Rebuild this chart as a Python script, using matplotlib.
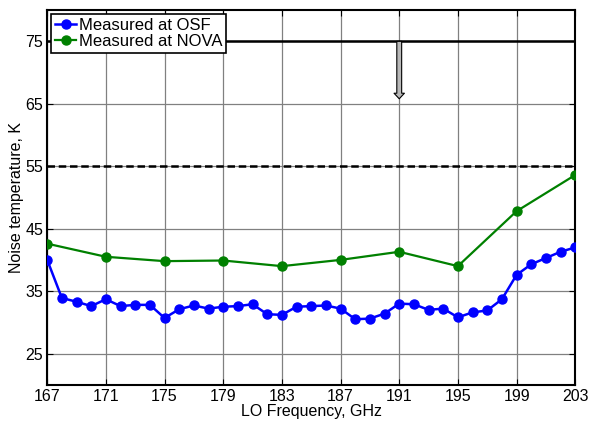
import matplotlib.pyplot as plt

plt.rcParams['font.family'] = ['Liberation Sans', 'DejaVu Sans']

# LO frequency, GHz
freq_osf = list(range(167, 204))
freq_nova = list(range(167, 204, 4))

# noise temperature, K
t_osf = [40.0, 33.9, 33.3, 32.6, 33.7, 32.6, 32.8, 32.8, 30.7, 32.1,
         32.7, 32.2, 32.5, 32.6, 32.9, 31.3, 31.2, 32.5, 32.6, 32.7,
         32.2, 30.5, 30.6, 31.4, 33.0, 32.9, 32.0, 32.2, 30.8, 31.6,
         31.9, 33.7, 37.6, 39.3, 40.3, 41.3, 42.0]
t_nova = [42.6, 40.5, 39.8, 39.9, 39.0, 40.0, 41.3, 39.0, 47.8, 53.6]

spec_solid = 75
spec_dashed = 55
xticks = list(range(167, 204, 4))
yticks = [25, 35, 45, 55, 65, 75]

fig = plt.figure(figsize=(5.9, 4.21), dpi=100)
ax = fig.add_axes([0.08, 0.086, 0.895, 0.89])

ax.axhline(spec_solid, color='black', lw=1.8, zorder=2)
ax.axhline(spec_dashed, color='black', lw=1.8, ls=(0, (3, 1.5)), zorder=2)

ax.plot(freq_osf, t_osf, '-o', color='#0000ff', lw=1.8, ms=6.5,
        label='Measured at OSF', zorder=4)
ax.plot(freq_nova, t_nova, '-o', color='#008000', lw=1.6, ms=6.5,
        label='Measured at NOVA', zorder=3)

# arrow hanging down from the upper limit
ax.annotate('', xy=(191, 65.8), xytext=(191, 75),
            arrowprops=dict(arrowstyle='simple,head_width=0.75,head_length=0.4,tail_width=0.35',
                            mutation_scale=10, fc='#b8b8b8', ec='black', lw=0.8,
                            shrinkA=0, shrinkB=0),
            zorder=5)

ax.set_xlim(167, 203)
ax.set_ylim(20, 80)
ax.set_xticks(xticks)
ax.set_yticks(yticks)
ax.grid(True, color='#808080', lw=0.9)
ax.tick_params(direction='in', top=True, right=True, labelsize=11.5, length=4, pad=3)
for s in ax.spines.values():
    s.set_linewidth(1.5)

ax.set_xlabel('LO Frequency, GHz', fontsize=11.5, labelpad=0)
ax.set_ylabel('Noise temperature, K', fontsize=11.5, labelpad=1)

leg = ax.legend(loc='upper left', fontsize=12, fancybox=False, framealpha=1,
                edgecolor='black', handlelength=1.3, handletextpad=0.15,
                borderpad=0.2, labelspacing=0.1, borderaxespad=0.25)
leg.get_frame().set_linewidth(1.2)

fig.savefig('out.png', dpi=100)
